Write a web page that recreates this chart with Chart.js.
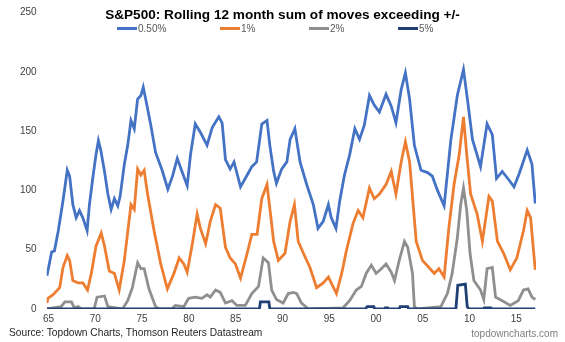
<!DOCTYPE html>
<html>
<head>
<meta charset="utf-8">
<script src="https://cdn.jsdelivr.net/npm/chart.js@4"></script>
<style>
  body { margin: 0; background: #fff; font-family: "Liberation Sans", Arial, sans-serif; }
  #wrap { position: relative; width: 565px; height: 342px; }
  #title { position: absolute; left: 0; width: 565px; top: 7px; text-align: center; font-weight: bold; font-size: 13.6px; color: #000; }
  #legend { position: absolute; top: 23px; left: 0; width: 565px; font-size: 10px; color: #595959; }
  .item { position: absolute; display: flex; align-items: center; }
  .item i { display: inline-block; width: 20px; height: 3px; margin-right: 1px; }
  #source { position: absolute; left: 9px; top: 327px; font-size: 10.2px; color: #262626; }
  #site { position: absolute; right: 7px; top: 328px; font-size: 10px; color: #7f7f7f; }
</style>
</head>
<body>
<div id="wrap">
  <canvas id="chart" width="565" height="342"></canvas>
  <div id="title">S&amp;P500: Rolling 12 month sum of moves exceeding +/-</div>
  <div id="legend"></div>
  <div id="source">Source: Topdown Charts, Thomson Reuters Datastream</div>
  <div id="site">topdowncharts.com</div>
</div>
<script>
(() => {
    // series names / colours
    const seriesNames = ['0.50%', '1%', '2%', '5%'];
    const seriesColors = ['#4472c4', '#ed7d31', '#8f8f8f', '#203f74'];

    // 0.50% moves
    const halfYears = [1964.83, 1965.33, 1965.63, 1966.04, 1966.54, 1967.0, 1967.25, 1967.6, 1967.95, 1968.31, 1968.66, 1969.12, 1969.37, 1969.72, 1970.07, 1970.33, 1970.58, 1970.98, 1971.34, 1971.69, 1972.04, 1972.4, 1972.65, 1973.1, 1973.46, 1973.81, 1974.16, 1974.52, 1974.87, 1975.12, 1975.38, 1975.93, 1976.44, 1977.14, 1977.75, 1978.25, 1978.76, 1979.26, 1979.82, 1980.17, 1980.68, 1981.23, 1981.94, 1982.49, 1983.2, 1983.55, 1983.91, 1984.41, 1984.82, 1985.52, 1986.23, 1986.73, 1987.24, 1987.79, 1988.35, 1988.65, 1989.06, 1989.36, 1989.91, 1990.47, 1990.82, 1991.33, 1991.88, 1992.59, 1993.3, 1993.8, 1994.36, 1994.91, 1995.21, 1995.72, 1996.12, 1996.63, 1997.18, 1997.74, 1998.24, 1998.75, 1999.3, 1999.81, 2000.36, 2001.07, 2001.63, 2002.13, 2002.69, 2003.14, 2003.59, 2004.1, 2004.81, 2005.51, 2006.02, 2006.57, 2007.28, 2007.99, 2008.69, 2009.35, 2009.75, 2010.31, 2011.17, 2011.87, 2012.43, 2012.88, 2013.49, 2014.19, 2014.75, 2015.3, 2016.16, 2016.67, 2017.02];
    const halfValues = [28, 48, 49, 66, 91, 117, 112, 88, 77, 83, 77, 66, 88, 110, 130, 142, 134, 116, 97, 84, 93, 87, 95, 122, 138, 159, 152, 177, 180, 187, 177, 155, 132, 117, 101, 112, 127, 116, 104, 130, 156, 149, 138, 153, 162, 157, 126, 118, 124, 103, 113, 120, 124, 156, 159, 138, 116, 106, 118, 124, 143, 152, 124, 105, 88, 68, 74, 88, 77, 68, 91, 113, 130, 152, 143, 155, 180, 172, 166, 181, 171, 157, 185, 199, 177, 138, 117, 115, 112, 100, 87, 142, 180, 202, 178, 143, 120, 156, 147, 110, 116, 109, 103, 114, 134, 122, 89];

    // 1% moves
    const oneYears = [1964.83, 1964.93, 1965.48, 1966.19, 1966.54, 1967.0, 1967.25, 1967.6, 1968.16, 1968.66, 1969.17, 1969.57, 1970.07, 1970.63, 1970.98, 1971.49, 1972.04, 1972.55, 1973.1, 1973.81, 1974.16, 1974.52, 1974.87, 1975.22, 1975.58, 1976.28, 1976.99, 1977.7, 1978.4, 1978.96, 1979.46, 1979.82, 1980.37, 1980.88, 1981.23, 1981.79, 1982.29, 1982.85, 1983.35, 1983.91, 1984.41, 1984.97, 1985.52, 1986.23, 1986.73, 1987.29, 1987.79, 1988.35, 1988.65, 1989.06, 1989.56, 1990.27, 1990.82, 1991.28, 1991.68, 1992.24, 1992.94, 1993.65, 1994.36, 1994.91, 1995.21, 1995.77, 1996.33, 1996.83, 1997.54, 1998.09, 1998.6, 1999.3, 1999.81, 2000.36, 2001.07, 2001.63, 2002.13, 2002.69, 2003.14, 2003.59, 2004.0, 2004.3, 2004.96, 2005.66, 2006.22, 2006.72, 2007.28, 2007.78, 2008.34, 2008.89, 2009.35, 2009.7, 2010.11, 2010.81, 2011.37, 2012.07, 2012.43, 2012.98, 2013.64, 2014.35, 2015.05, 2015.76, 2016.16, 2016.52, 2017.02];
    const oneValues = [5, 9, 12, 18, 35, 45, 41, 24, 22, 22, 16, 30, 53, 64, 53, 32, 30, 16, 41, 88, 84, 118, 113, 117, 97, 66, 38, 17, 30, 43, 38, 31, 55, 80, 68, 55, 74, 88, 85, 52, 43, 38, 26, 47, 63, 63, 93, 105, 85, 57, 41, 47, 74, 88, 57, 47, 35, 18, 22, 27, 22, 13, 30, 49, 72, 83, 77, 102, 93, 97, 105, 116, 97, 124, 141, 124, 85, 57, 41, 35, 30, 34, 27, 68, 105, 130, 162, 130, 97, 80, 57, 95, 91, 57, 47, 33, 43, 66, 83, 77, 33];

    // 2% moves
    const twoYears = [1964.83, 1966.34, 1966.74, 1967.45, 1967.75, 1968.16, 1968.51, 1969.87, 1970.18, 1970.98, 1971.34, 1972.9, 1973.46, 1973.96, 1974.52, 1974.87, 1975.22, 1975.73, 1976.44, 1976.84, 1978.15, 1978.56, 1979.46, 1979.97, 1980.68, 1981.38, 1981.94, 1982.29, 1982.85, 1983.35, 1983.91, 1984.61, 1985.12, 1986.03, 1986.73, 1987.44, 1987.94, 1988.5, 1988.85, 1989.36, 1990.07, 1990.62, 1991.18, 1991.53, 1992.03, 1992.79, 1996.48, 1997.18, 1997.89, 1998.44, 1998.95, 1999.5, 2000.01, 2000.57, 2001.07, 2001.63, 2001.98, 2002.48, 2003.04, 2003.39, 2003.9, 2004.1, 2004.4, 2006.93, 2007.63, 2008.14, 2008.69, 2009.05, 2009.35, 2009.7, 2010.05, 2010.46, 2011.17, 2011.52, 2011.87, 2012.43, 2012.78, 2013.49, 2014.35, 2015.2, 2015.76, 2016.26, 2016.67, 2017.02];
    const twoValues = [0, 2, 6, 6, 1, 2, 0, 0, 10, 11, 2, 0, 7, 18, 39, 34, 34, 17, 2, 0, 0, 3, 2, 9, 10, 9, 12, 10, 16, 14, 5, 7, 3, 3, 13, 19, 43, 39, 16, 8, 5, 13, 14, 13, 5, 0, 1, 7, 16, 19, 30, 37, 30, 34, 38, 31, 24, 41, 57, 52, 30, 2, 0, 2, 13, 30, 60, 88, 102, 83, 47, 24, 16, 8, 34, 35, 10, 7, 3, 7, 16, 17, 10, 8];

    // 5% moves
    const fiveYears = [1964.83, 1987.54, 1987.64, 1988.55, 1988.65, 1998.85, 1999.05, 1999.76, 1999.86, 2000.87, 2000.97, 2001.27, 2001.37, 2002.48, 2002.58, 2003.39, 2003.49, 2008.54, 2008.74, 2009.55, 2009.75, 2009.95, 2011.47, 2011.57, 2012.28, 2012.38, 2017.02];
    const fiveValues = [0, 0, 6, 6, 0, 0, 2, 2, 0, 0, 1, 1, 0, 0, 2, 2, 0, 0, 20, 21, 2, 0, 0, 1, 1, 0, 0];

    // y axis
    const yTicks = [0, 50, 100, 150, 200, 250];

    const toPoints = (xs, ys) => xs.map((x, i) => ({ x, y: ys[i] }));
    const allSeries = [
        toPoints(halfYears, halfValues),
        toPoints(oneYears, oneValues),
        toPoints(twoYears, twoValues),
        toPoints(fiveYears, fiveValues)
    ];

    // legend as html, Excel-like spacing
    const legend = document.getElementById('legend');
    const legendLeft = [117, 220, 309, 398];
    seriesNames.forEach((name, i) => {
        const el = document.createElement('span');
        el.className = 'item';
        el.style.left = legendLeft[i] + 'px';
        el.innerHTML = '<i style="background:' + seriesColors[i] + '"></i>' + name;
        legend.appendChild(el);
    });

    new Chart(document.getElementById('chart'), {
        type: 'line',
        data: {
            datasets: allSeries.map((pts, i) => ({
                label: seriesNames[i],
                data: pts,
                borderColor: seriesColors[i],
                borderWidth: 2.8,
                pointRadius: 0,
                tension: 0,
                fill: false,
                order: i === 3 ? -1 : i
            }))
        },
        options: {
            responsive: false,
            animation: false,
            devicePixelRatio: 1,
            layout: { padding: { left: 10, right: 29, top: 0, bottom: 13 } },
            plugins: {
                legend: { display: false },
                title: { display: false },
                tooltip: { enabled: false }
            },
            scales: {
                x: {
                    type: 'linear',
                    min: 1964.8,
                    max: 2017.1,
                    grid: { display: false, drawTicks: false },
                    border: { display: false },
                    afterBuildTicks: axis => {
                        axis.ticks = [];
                        for (let y = 1965; y <= 2015; y += 5) axis.ticks.push({ value: y });
                    },
                    ticks: {
                        autoSkip: false,
                        maxRotation: 0,
                        padding: 4,
                        color: '#404040',
                        font: { family: 'Liberation Sans', size: 10 },
                        callback: v => String(v % 100).padStart(2, '0')
                    }
                },
                y: {
                    min: yTicks[0],
                    max: yTicks[yTicks.length - 1],
                    grid: { display: false, drawTicks: false },
                    border: { display: false },
                    afterBuildTicks: axis => { axis.ticks = yTicks.map(v => ({ value: v })); },
                    ticks: {
                        padding: 10,
                        color: '#404040',
                        font: { family: 'Liberation Sans', size: 10, lineHeight: 0.5 }
                    }
                }
            }
        }
    });
})();
</script>
</body>
</html>
